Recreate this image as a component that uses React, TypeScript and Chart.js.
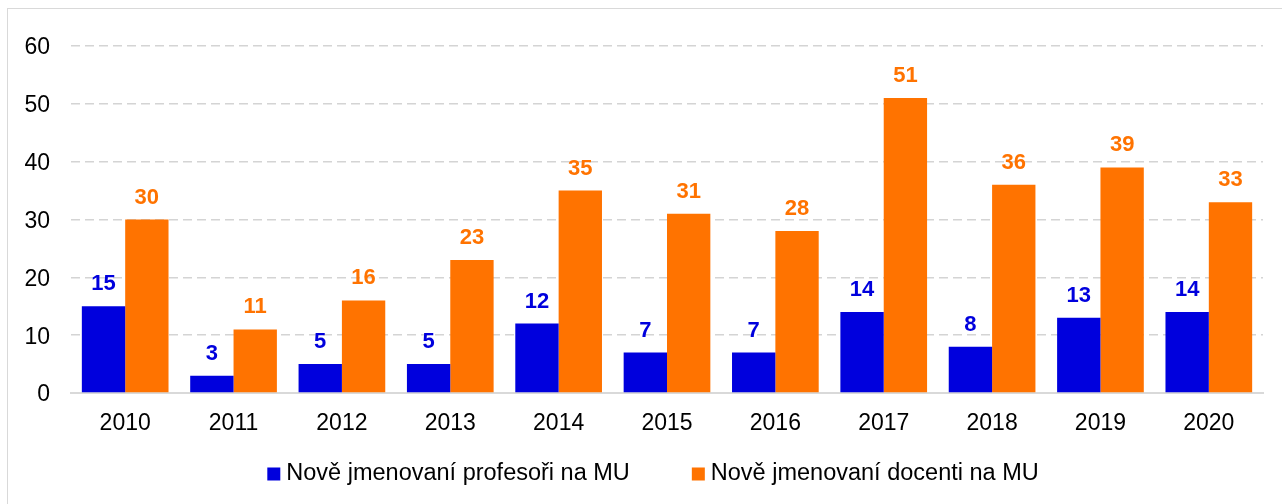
import React, { useEffect, useRef } from "react";
import { Chart, registerables } from "chart.js";

Chart.register(...registerables);

const categories = ["2010", "2011", "2012", "2013", "2014", "2015", "2016", "2017", "2018", "2019", "2020"];
const profesori = [15, 3, 5, 5, 12, 7, 7, 14, 8, 13, 14];
const docenti = [30, 11, 16, 23, 35, 31, 28, 51, 36, 39, 33];
const seriesNames = ["Nově jmenovaní profesoři na MU", "Nově jmenovaní docenti na MU"];
const colors = ["#0000DD", "#FF7300"];

const FONT = "'Liberation Sans', Arial, sans-serif";

const dataLabels = {
  id: "dataLabels",
  afterDatasetsDraw(chart: any) {
    const ctx = chart.ctx;
    ctx.save();
    ctx.font = `bold 22px ${FONT}`;
    ctx.textAlign = "center";
    ctx.textBaseline = "alphabetic";
    chart.data.datasets.forEach((ds: any, di: number) => {
      const meta = chart.getDatasetMeta(di);
      ctx.fillStyle = ds.backgroundColor;
      meta.data.forEach((el: any, i: number) => {
        ctx.fillText(String(ds.data[i]), el.x, el.y - 16);
      });
    });
    ctx.restore();
  },
};

const bottomLegend = {
  id: "bottomLegend",
  afterDraw(chart: any) {
    const ctx = chart.ctx;
    const box = 13;
    const boxGap = 6;
    const itemGap = 62;
    const cy = 465;
    ctx.save();
    ctx.font = `23.5px ${FONT}`;
    ctx.textBaseline = "middle";
    ctx.textAlign = "left";
    const items = chart.data.datasets.map((ds: any) => ({
      text: ds.label,
      color: ds.backgroundColor,
      w: box + boxGap + ctx.measureText(ds.label).width,
    }));
    const total = items.reduce((a: number, it: any) => a + it.w, 0) + itemGap * (items.length - 1);
    let x = chart.width / 2 - total / 2;
    items.forEach((it: any) => {
      ctx.fillStyle = it.color;
      ctx.fillRect(x, cy - box / 2, box, box);
      ctx.fillStyle = "#000";
      ctx.fillText(it.text, x + box + boxGap, cy);
      x += it.w + itemGap;
    });
    ctx.restore();
  },
};

export default function App() {
  const ref = useRef<HTMLCanvasElement | null>(null);
  useEffect(() => {
    document.body.style.overflow = "hidden";
    const chart = new Chart(ref.current!, {
      type: "bar",
      data: {
        labels: categories,
        datasets: [
          { label: seriesNames[0], data: profesori, backgroundColor: colors[0], borderWidth: 0 },
          { label: seriesNames[1], data: docenti, backgroundColor: colors[1], borderWidth: 0 },
        ],
      },
      options: {
        animation: false,
        responsive: false,
        maintainAspectRatio: false,
        datasets: { bar: { categoryPercentage: 0.8, barPercentage: 1.0 } },
        layout: { padding: { left: 0, right: 35, top: 37, bottom: 56 } },
        plugins: {
          tooltip: { enabled: false },
          legend: { display: false },
        },
        scales: {
          x: {
            grid: { display: false, drawTicks: false },
            border: { display: true, color: "#d9d9d9", width: 2 },
            ticks: { color: "#000", padding: 17, font: { family: FONT, size: 23 } },
            afterFit: (s: any) => { s.height = 60; },
          },
          y: {
            min: 0,
            max: 60,
            ticks: { stepSize: 10, color: "#000", padding: 21, labelOffset: 2, font: { family: FONT, size: 23 } },
            grid: {
              drawTicks: false,
              color: (c: any) => (c.tick && c.tick.value === 0 ? "rgba(0,0,0,0)" : "#d4d4d4"),
              lineWidth: 1.5,
            },
            border: { display: false, dash: [9, 5] },
            afterFit: (s: any) => { s.width = 63; },
          },
        },
      },
      plugins: [dataLabels, bottomLegend],
    });
    return () => chart.destroy();
  }, []);
  return (
    <div
      style={{
        position: "fixed",
        left: 7,
        top: 8,
        width: 1290,
        height: 500,
        border: "1px solid #d9d9d9",
        background: "#fff",
      }}
    >
      <canvas ref={ref} width={1290} height={500} style={{ display: "block", width: 1290, height: 500 }} />
    </div>
  );
}
